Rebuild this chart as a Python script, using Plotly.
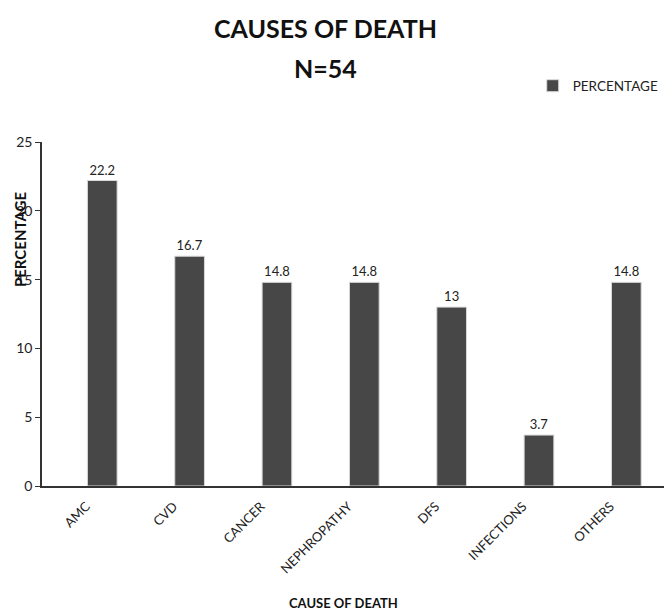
import plotly.graph_objects as go

categories = ["AMC", "CVD", "CANCER", "NEPHROPATHY", "DFS", "INFECTIONS", "OTHERS"]
percentages = [22.2, 16.7, 14.8, 14.8, 13, 3.7, 14.8]
y_ticks = [0, 5, 10, 15, 20, 25]

FONT = "Lato, 'Open Sans', sans-serif"

fig = go.Figure()
fig.add_trace(go.Bar(
    x=categories, y=percentages, name="PERCENTAGE",
    marker=dict(color="#474747", line=dict(color="#d9d9d9", width=1)),
    width=0.34,
    text=[str(v) for v in percentages], textposition="outside",
    textfont=dict(size=13, color="#222222", family=FONT),
    cliponaxis=False,
))

fig.update_layout(
    width=664, height=603,
    margin=dict(l=34, r=2, t=134, b=125, autoexpand=False),
    paper_bgcolor="white", plot_bgcolor="white",
    font=dict(family=FONT, color="#222222"),
    showlegend=True,
    legend=dict(x=0.99, xanchor="right", y=1.163, yanchor="middle",
                font=dict(size=13.5, color="#222222", family=FONT),
                itemwidth=30, bgcolor="rgba(0,0,0,0)", borderwidth=0),
    bargap=0.66,
)

fig.update_xaxes(
    range=[-0.69, 6.5], showline=True, linecolor="#333333", linewidth=1.5,
    ticks="", tickangle=-45, tickfont=dict(size=13, color="#222222"),
    ticklabelstandoff=6, ticklabelshift=-16,
    showgrid=False, zeroline=False,
)
fig.update_yaxes(
    range=[0, 25], tickvals=y_ticks, showline=True, linecolor="#333333", linewidth=1.5,
    ticks="outside", ticklen=5, tickcolor="#333333",
    tickfont=dict(size=14, color="#222222"), showgrid=False, zeroline=False,
)

fig.add_annotation(text="<b>CAUSES OF DEATH</b>", xref="paper", yref="paper",
                   x=0.452, y=(478 - 20) / 344, xanchor="center", yanchor="middle",
                   showarrow=False, font=dict(size=25, color="#111111"))
fig.add_annotation(text="<b>N=54</b>", xref="paper", yref="paper",
                   x=0.452, y=(478 - 60) / 344, xanchor="center", yanchor="middle",
                   showarrow=False, font=dict(size=25, color="#111111"))
fig.add_annotation(text="<b>PERCENTAGE</b>", textangle=-90, xref="paper", yref="paper",
                   x=-0.035, y=0.715, xanchor="center", yanchor="middle", showarrow=False,
                   font=dict(size=15, color="#111111"))
fig.add_annotation(text="<b>CAUSE OF DEATH</b>", xref="paper", yref="paper",
                   x=0.48, y=-0.34, xanchor="center", yanchor="middle", showarrow=False,
                   font=dict(size=13, color="#111111"))

fig.write_html("out.html")
